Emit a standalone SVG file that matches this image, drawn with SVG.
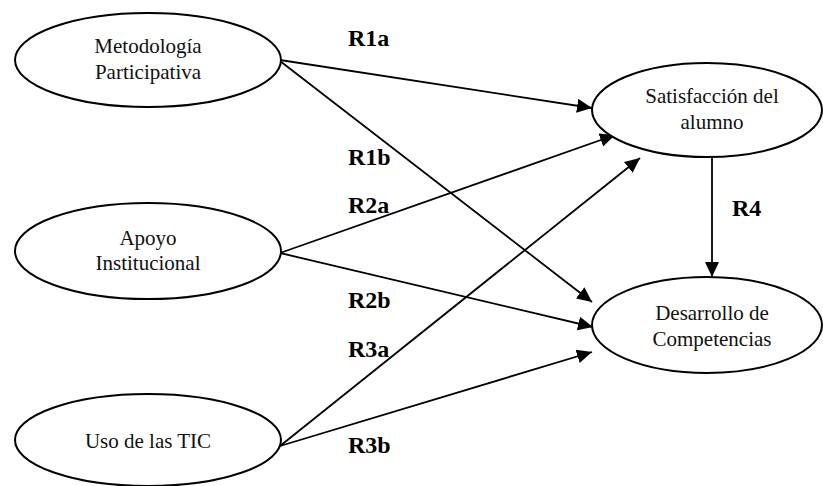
<svg xmlns="http://www.w3.org/2000/svg" width="823" height="486" viewBox="0 0 823 486">
<style>
.node ellipse{fill:#fff;stroke:#000;stroke-width:2}
.node text{font-family:'Liberation Serif','DejaVu Serif',serif;font-size:21px;fill:#111;text-anchor:middle}
.lbl{font-family:'Liberation Serif','DejaVu Serif',serif;font-size:24px;font-weight:bold;fill:#000}
.conn line{stroke:#000;stroke-width:1.8;marker-end:url(#ah)}
</style>
<defs>
<marker id="ah" markerUnits="userSpaceOnUse" markerWidth="16" markerHeight="15" refX="15" refY="7" orient="auto">
<path d="M0,0 L15,7 L0,14 z" fill="#000"/>
</marker>
</defs>
<rect width="823" height="486" fill="#fff"/>
<g id="connectors" class="conn">
<line x1="280" y1="60" x2="592" y2="108"/>
<line x1="280" y1="61" x2="592" y2="302"/>
<line x1="280" y1="253" x2="615" y2="135"/>
<line x1="280" y1="253" x2="593" y2="327"/>
<line x1="280" y1="446" x2="640" y2="158"/>
<line x1="280" y1="446" x2="592" y2="352"/>
<line x1="712" y1="158" x2="712" y2="277"/>
</g>
<g id="metodologia" class="node">
<ellipse cx="148" cy="60" rx="133" ry="47"/>
<text x="148" y="53" font-family="Liberation Serif, serif">Metodología</text>
<text x="148" y="79" font-family="Liberation Serif, serif">Participativa</text>
</g>
<g id="apoyo" class="node">
<ellipse cx="148" cy="251" rx="133" ry="48"/>
<text x="148" y="245">Apoyo</text>
<text x="148" y="270">Institucional</text>
</g>
<g id="tic" class="node">
<ellipse cx="148" cy="440" rx="133" ry="46"/>
<text x="148" y="448">Uso de las TIC</text>
</g>
<g id="satisfaccion" class="node">
<ellipse cx="707" cy="110" rx="115" ry="47"/>
<text x="712" y="103">Satisfacción del</text>
<text x="712" y="129">alumno</text>
</g>
<g id="desarrollo" class="node">
<ellipse cx="707" cy="325" rx="115" ry="48"/>
<text x="712" y="320">Desarrollo de</text>
<text x="712" y="346">Competencias</text>
</g>
<g id="labels">
<text class="lbl" x="348" y="46">R1a</text>
<text class="lbl" x="348" y="165">R1b</text>
<text class="lbl" x="348" y="213">R2a</text>
<text class="lbl" x="348" y="308">R2b</text>
<text class="lbl" x="348" y="357">R3a</text>
<text class="lbl" x="348" y="453">R3b</text>
<text class="lbl" x="732" y="216">R4</text>
</g>
</svg>
